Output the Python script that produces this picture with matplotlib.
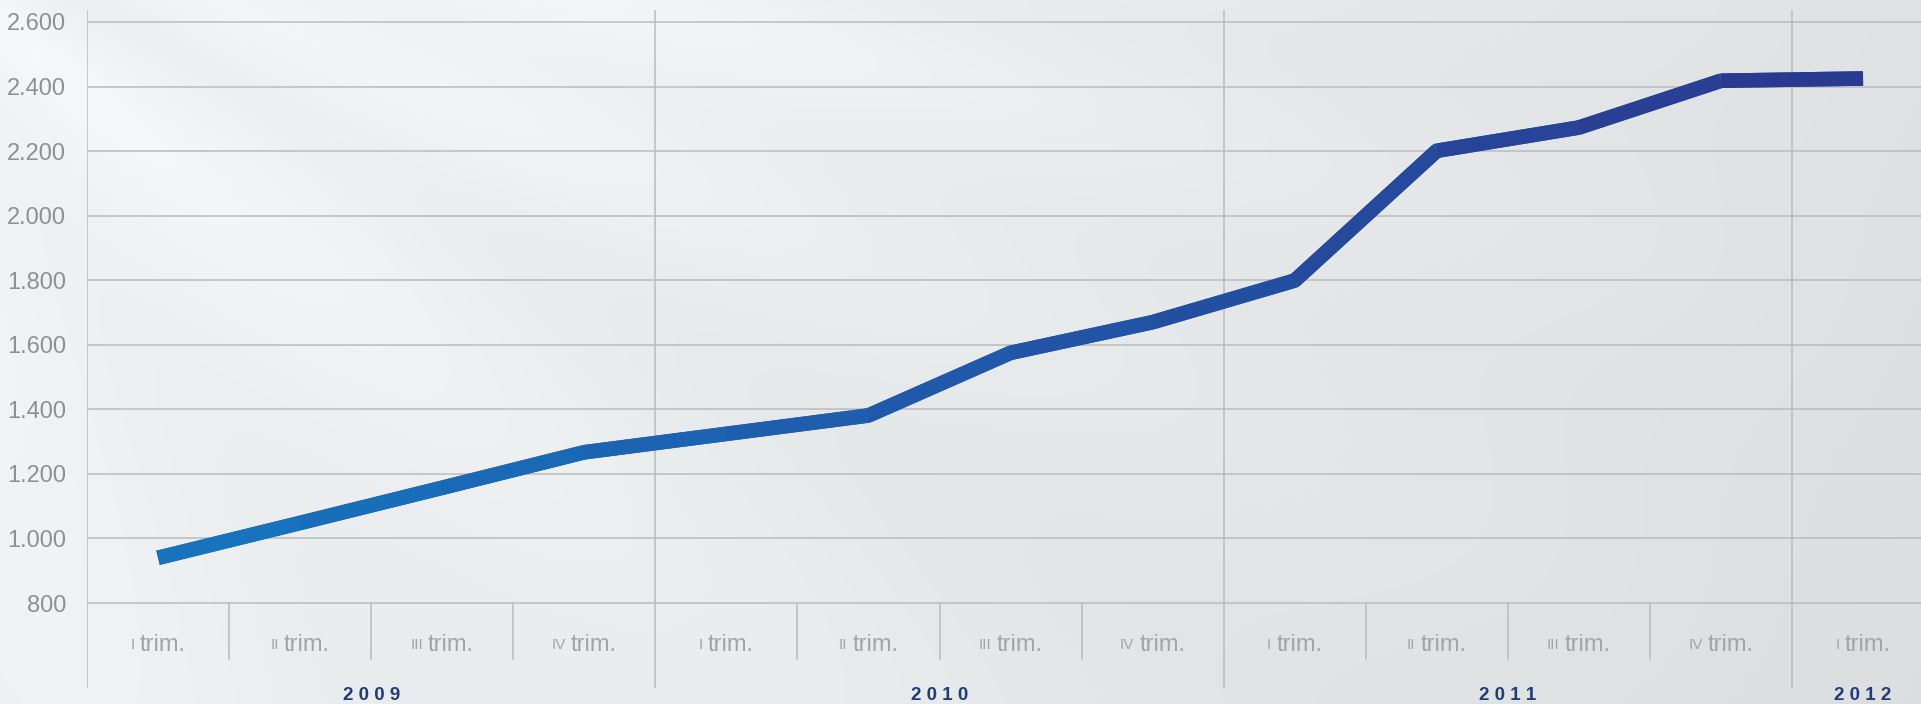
"""
Quarterly series 2009-2012 on a light grey gradient background
"""
import numpy as np
import matplotlib.pyplot as plt
from matplotlib.colors import LinearSegmentedColormap

plt.rcParams["font.family"] = ["Liberation Sans", "DejaVu Sans"]

# ── data ───────────────────────────────────────────────────────────────
quarters = ["I", "II", "III", "IV", "I", "II", "III", "IV",
            "I", "II", "III", "IV", "I"]
years = ["2009", "2010", "2011", "2012"]
year_quarters = [4, 4, 4, 1]
values = [940, 1048, 1157, 1267, 1324, 1381, 1575, 1670,
          1799, 2201, 2273, 2418, 2425]
yticks = [800, 1000, 1200, 1400, 1600, 1800, 2000, 2200, 2400, 2600]

W, H = 1921, 704
fig = plt.figure(figsize=(W / 100, H / 100), dpi=100)

# background gradient with soft light rays
bg = fig.add_axes([0, 0, 1, 1], zorder=-10)
xx, yy = np.meshgrid(np.linspace(0, 1, 480), np.linspace(0, 1, 176))
base = 0.94 - 0.065 * xx ** 1.4 + 0.015 * (1 - yy)
ang = np.arctan2(yy + 0.3, xx + 0.15)
rays = 0.012 * np.cos(ang * 22) + 0.008 * np.cos(ang * 9 + 1.0)
glow = 0.015 * np.exp(-((xx - 0.25) ** 2 / 0.08 + (yy - 0.1) ** 2 / 0.1))
lum = np.clip(base + rays * (1 - xx) + glow, 0, 1)
img = np.dstack([lum * 0.985, lum * 0.995, lum * 1.0])
bg.imshow(np.clip(img, 0, 1), aspect="auto", extent=[0, 1, 0, 1],
          interpolation="bicubic")
bg.axis("off")

# main axes: pixel box x 87..1921, y 10..688
ax = fig.add_axes([87 / W, (H - 688) / H, (W - 87) / W, (688 - 10) / H])
ax.patch.set_alpha(0)
qw = (1792 - 87) / 12
ax.set_xlim(0, (W - 87) / qw)
px_per_unit = (603 - 22) / 1800
ax.set_ylim(800 - (688 - 603) / px_per_unit, 2600 + (22 - 10) / px_per_unit)
for s in ax.spines.values():
    s.set_visible(False)

grid_c = "#b9bbbd"
for v in yticks:
    ax.axhline(v, color=grid_c, lw=1.1, zorder=1)

ylo, yhi = ax.get_ylim()
q_bottom = 800 - (659 - 603) / px_per_unit
pos = 0
for n in year_quarters:
    ax.plot([pos, pos], [ylo, yhi], color=grid_c, lw=1.1, zorder=1)
    for k in range(1, n):
        ax.plot([pos + k, pos + k], [q_bottom, 800], color=grid_c, lw=1.1,
                zorder=1)
    pos += n
ax.plot([pos, pos], [ylo, yhi], color=grid_c, lw=1.1, zorder=1)

ax.set_xticks([])
ax.set_yticks(yticks)
ax.set_yticklabels([f"{v:,}".replace(",", ".") for v in yticks])
ax.tick_params(axis="y", length=0, pad=15, labelsize=17,
               labelcolor="#8e9194")

# line with left-to-right blue gradient
xs = np.arange(len(values)) + 0.5
cmap = LinearSegmentedColormap.from_list("bl", ["#1773bd", "#2a3a90"])
lw = 10.5
ax.plot(xs, values, color="#2158a8", lw=lw, solid_joinstyle="miter",
        solid_capstyle="butt", zorder=3)
for i in range(len(values) - 1):
    ax.plot(xs[i:i + 2], values[i:i + 2], color=cmap(i / (len(values) - 2)),
            lw=lw, solid_capstyle="butt", zorder=4)

# quarter labels: small roman numeral + "trim."
lab_y = 800 - (645 - 603) / px_per_unit
fig.canvas.draw()
r = fig.canvas.get_renderer()
inv = ax.transData.inverted()
for i, q in enumerate(quarters):
    t1 = ax.text(0, lab_y, q, fontsize=11, color="#a2a5a8", va="center")
    t2 = ax.text(0, lab_y, "trim.", fontsize=17, color="#a2a5a8",
                 va="center")
    w1 = t1.get_window_extent(r).width
    w2 = t2.get_window_extent(r).width
    gap = 5
    cx = ax.transData.transform((xs[i], lab_y))[0]
    left = cx - (w1 + gap + w2) / 2
    t1.set_x(inv.transform((left, 0))[0])
    t2.set_x(inv.transform((left + w1 + gap, 0))[0])

# year labels
year_y = 800 - (695 - 603) / px_per_unit
pos = 0
for yr, n in zip(years, year_quarters):
    ax.text(pos + n / 2, year_y, " ".join(yr), ha="center", va="center",
            fontsize=13.5, fontweight="bold", color="#1f3d78", clip_on=False)
    pos += n

fig.savefig("out.png", dpi=100)
